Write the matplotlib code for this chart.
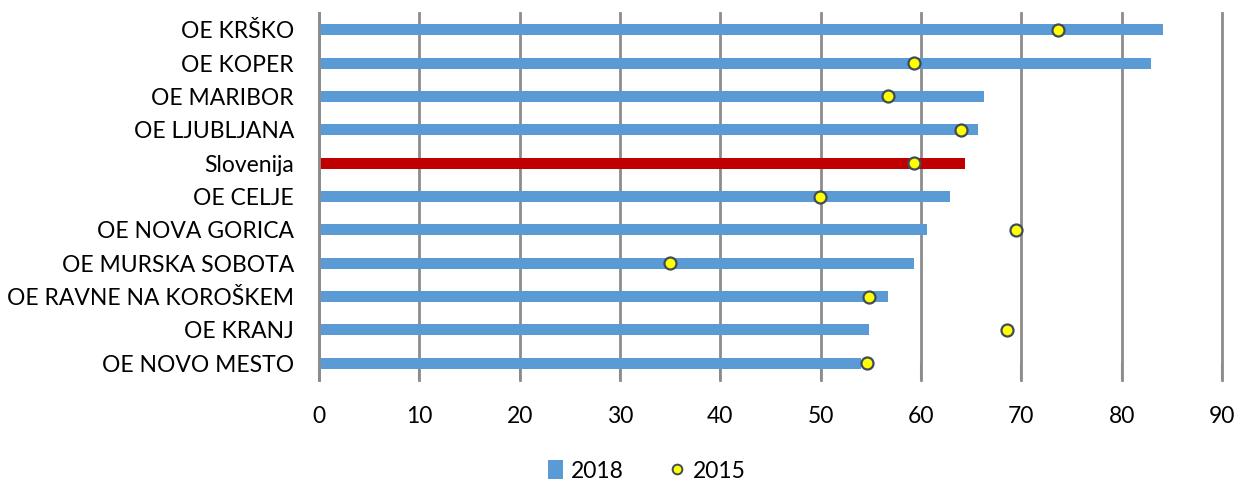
import matplotlib
matplotlib.use("Agg")
import matplotlib.pyplot as plt
from matplotlib.lines import Line2D
from matplotlib.patches import Patch

regions = ["OE KRŠKO", "OE KOPER", "OE MARIBOR", "OE LJUBLJANA", "Slovenija",
           "OE CELJE", "OE NOVA GORICA", "OE MURSKA SOBOTA",
           "OE RAVNE NA KOROŠKEM", "OE KRANJ", "OE NOVO MESTO"]
values_2018 = [84.1, 82.9, 66.3, 65.7, 64.4, 62.9, 60.6, 59.3, 56.7, 54.8, 54.0]
values_2015 = [73.7, 59.3, 56.7, 64.0, 59.3, 49.9, 69.5, 35.0, 54.8, 68.6, 54.6]
x_ticks = [0, 10, 20, 30, 40, 50, 60, 70, 80, 90]

BLUE = "#5B9BD5"
RED = "#C00000"
GRID = "#8C8C8C"
FONT = ["Lato", "DejaVu Sans"]

plt.rcParams["font.family"] = FONT

fig = plt.figure(figsize=(12.41, 4.83), dpi=100)
W, H = 1241, 483
ax = fig.add_axes([319 / W, 1 - 380 / H, (1222 - 319) / W, (380 - 13) / H])

n = len(regions)
ypos = list(range(n))
colors = [RED if r == "Slovenija" else BLUE for r in regions]

ax.barh(ypos, values_2018, height=0.33, color=colors, zorder=3)
ax.scatter(values_2015, ypos, s=75, color="#FFFF00", edgecolor="#3F4A5A",
           linewidth=1.6, zorder=4)

ax.set_xlim(0, 90)
ax.set_ylim(n - 0.5, -0.5)
ax.set_xticks(x_ticks)
ax.set_yticks(ypos)
ax.set_yticklabels(regions, fontsize=16.5)
ax.tick_params(axis="y", length=0, pad=18)
ax.tick_params(axis="x", length=12, color=GRID, width=1.5, labelsize=16.5,
               pad=19, direction="in")

ax.grid(axis="x", color=GRID, linewidth=2, zorder=0)
for gl in ax.get_xgridlines():
    gl.set_clip_on(False)
for s in ["top", "right", "bottom"]:
    ax.spines[s].set_visible(False)
ax.spines["left"].set_color(GRID)
ax.spines["left"].set_linewidth(2)
ax.spines["left"].set_zorder(5)

handles = [
    Patch(facecolor=BLUE, edgecolor="none", label="2018"),
    Line2D([], [], marker="o", linestyle="none", markersize=7,
           markerfacecolor="#FFFF00", markeredgecolor="#3F4A5A",
           markeredgewidth=1.4, label="2015"),
]
fig.legend(handles=handles, loc="center", bbox_to_anchor=(647 / W, 1 - 471 / H),
           ncol=2, frameon=False, fontsize=16.5, handlelength=0.65,
           handleheight=0.9, handletextpad=0.35, columnspacing=2.0)

fig.savefig("out.png", dpi=100)
